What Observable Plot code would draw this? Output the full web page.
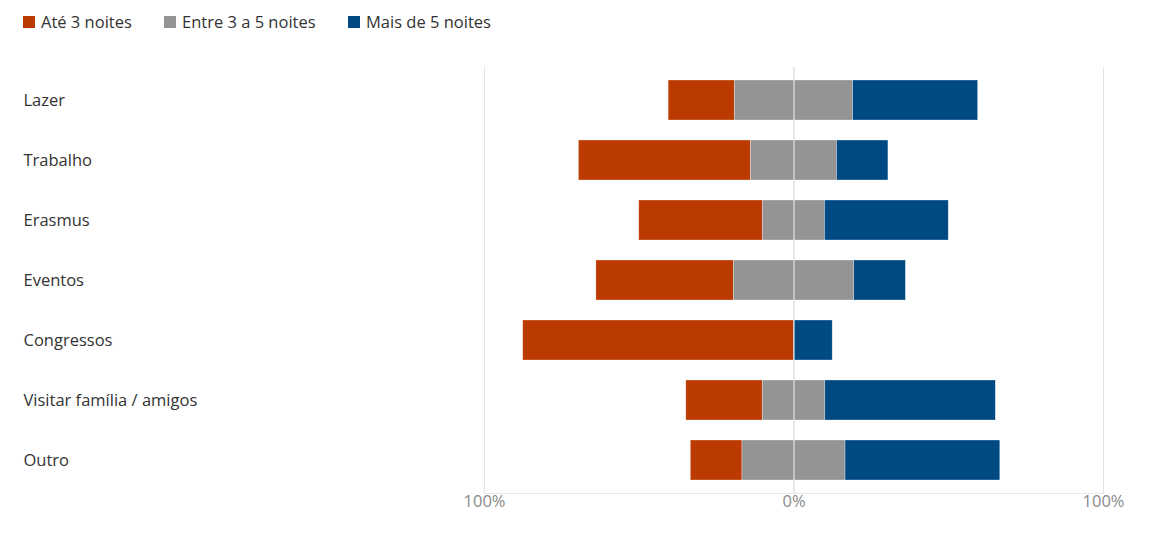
<!DOCTYPE html>
<html>
<head>
<meta charset="utf-8">
<script src="https://cdn.jsdelivr.net/npm/d3@7"></script>
<script src="https://cdn.jsdelivr.net/npm/@observablehq/plot@0.6"></script>
<style>
  body { margin: 0; background: #fff; font-family: "Open Sans", "Noto Sans", sans-serif; }
  #legend { height: 40px; position: relative; font-size: 16.5px; color: #333; }
  .item { position: absolute; top: 10px; display: flex; align-items: center; white-space: nowrap; }
  .sw { width: 12px; height: 12px; margin-right: 6px; display: inline-block; }
</style>
</head>
<body>
<div id="legend"></div>
<div id="chart"></div>
<script>
const categories = ["Lazer", "Trabalho", "Erasmus", "Eventos", "Congressos", "Visitar família / amigos", "Outro"];
const series = ["Até 3 noites", "Entre 3 a 5 noites", "Mais de 5 noites"];
const colors = ["#bb3a02", "#949494", "#004a84"];
const ate3 =   [21.4, 55.6, 40.0, 44.4, 87.5, 24.7, 16.7];
const entre =  [38.2, 27.8, 20.0, 38.9,  0.0, 20.2, 33.3];
const mais5 =  [40.4, 16.6, 40.0, 16.7, 12.5, 55.1, 50.0];
const xTicks = [-100, 0, 100];

// legend
const legend = document.getElementById("legend");
const legendX = [23, 164, 348];
series.forEach((s, i) => {
  const el = document.createElement("div");
  el.className = "item";
  el.style.left = legendX[i] + "px";
  el.innerHTML = `<span class="sw" style="background:${colors[i]}"></span>${s}`;
  legend.appendChild(el);
});

// diverging table
const rows = [];
categories.forEach((c, i) => {
  const g = entre[i] / 2;
  rows.push({cat: c, s: series[0], x1: -g - ate3[i], x2: -g});
  if (entre[i] > 0) rows.push({cat: c, s: series[1], x1: -g, x2: g});
  rows.push({cat: c, s: series[2], x1: g, x2: g + mais5[i]});
});

const chart = Plot.plot({
  width: 1150,
  height: 496,
  marginTop: 27,
  marginBottom: 43,
  marginLeft: 484,
  marginRight: 47,
  style: {fontFamily: "'Open Sans', 'Noto Sans', sans-serif", fontSize: "17px", color: "#333", background: "#fff"},
  x: {domain: [-100, 100], ticks: xTicks, tickFormat: d => Math.abs(d) + "%", label: null},
  y: {domain: categories, paddingInner: 0.33, paddingOuter: 0.165, label: null},
  color: {domain: series, range: colors},
  marks: [
    Plot.ruleX(xTicks, {stroke: "#e3e3e3", strokeWidth: 1}),
    Plot.frame({anchor: "bottom", stroke: "#e8e8e8"}),
    Plot.barX(rows, {y: "cat", x1: "x1", x2: "x2", fill: "s", stroke: "#fff", strokeWidth: 0.6, strokeOpacity: 0.5, insetLeft: 0, insetRight: 0}),
    Plot.ruleX([0], {stroke: "#e3e3e3", strokeWidth: 1.2}),
    Plot.axisX({ticks: xTicks, tickFormat: d => Math.abs(d) + "%", tickSize: 0, tickPadding: 2, fill: "#8a8a8a", fontSize: 16.5, label: null}),
    Plot.axisY({tickSize: 0, tickPadding: 0, textAnchor: "start", dx: -461, fill: "#333", fontSize: 16.5, label: null})
  ]
});
document.getElementById("chart").appendChild(chart);
</script>
</body>
</html>
